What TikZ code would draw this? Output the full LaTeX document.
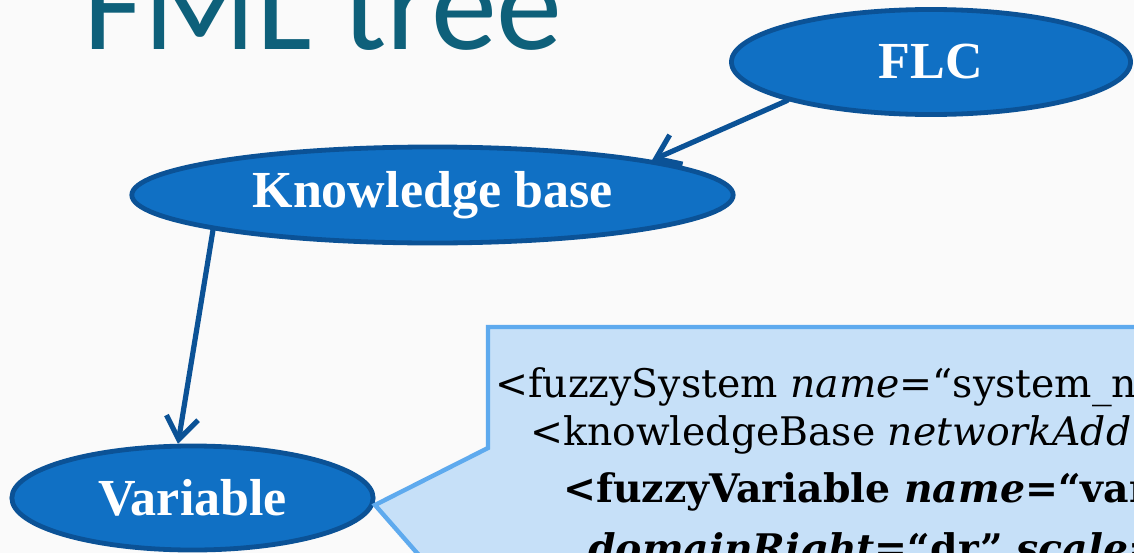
\documentclass[tikz,border=0pt]{standalone}
\usepackage{fontspec}
\usepackage{tikz}
\usetikzlibrary{shapes.geometric,arrows.meta}
\setmainfont{DejaVu Serif}
\newfontfamily\labelfont{Liberation Serif}
\newfontfamily\titlefont{Carlito}

\definecolor{titleteal}{RGB}{14,96,122}
\definecolor{nodefill}{RGB}{16,112,196}
\definecolor{nodeborder}{RGB}{11,82,150}
\definecolor{calloutfill}{RGB}{198,224,248}
\definecolor{calloutborder}{RGB}{94,170,238}
\definecolor{slidebg}{RGB}{250,250,250}

\tikzset{
  treenode/.style={ellipse, draw=nodeborder, fill=nodefill, line width=0.12cm, inner sep=0pt,
    text=white, font=\labelfont\bfseries\fontsize{37pt}{42pt}\selectfont},
  treeedge/.style={draw=nodeborder, line width=0.13cm, line cap=round,
    -{Straight Barb[length=0.55cm,width=0.8cm]}},
  xmlline/.style={anchor=base west, inner sep=0pt, font=\fontsize{28pt}{32pt}\selectfont}
}

\begin{document}
\begin{tikzpicture}[x=0.025cm, y=-0.025cm]
  \useasboundingbox (0,0) rectangle (1134,553);
  \clip (0,0) rectangle (1134,553);
  \fill[slidebg] (0,0) rectangle (1134,553);
  \node[anchor=base west, inner sep=0pt, text=titleteal, font=\titlefont\fontsize{94pt}{100pt}\selectfont] (title) at (83,49) {FML tree};

  \node[treenode, minimum width=9.975cm, minimum height=2.625cm] (flc) at (931,62) {FLC};
  \node[treenode, minimum width=15.03cm, minimum height=2.4cm] (kbase) at (432.5,195) {Knowledge base};
  \node[treenode, minimum width=9.03cm, minimum height=2.6cm] (variable) at (192.5,498) {Variable};

  \draw[treeedge] (flc.195) -- (kbase.9);
  \draw[treeedge] (kbase.189) -- (variable.105);

  \filldraw[fill=calloutfill, draw=calloutborder, line width=0.11cm]
    (488,327) -- (1160,327) -- (1160,700) -- (488,700) -- (488,634) -- (375,505) -- (488,448) -- cycle;
  \node[xmlline] (fsystem) at (495,397) {<fuzzySystem \textit{name}=“system\_n};
  \node[xmlline] (kbline) at (530,445) {<knowledgeBase \textit{networkAdd}};
  \node[xmlline] (fvariable) at (563,502) {\textbf{<fuzzyVariable \textit{name}=“var}};
  \node[xmlline] (domright) at (588,562) {\textbf{\textit{domainRight}=“dr” \textit{scale}=}};
\end{tikzpicture}
\end{document}
